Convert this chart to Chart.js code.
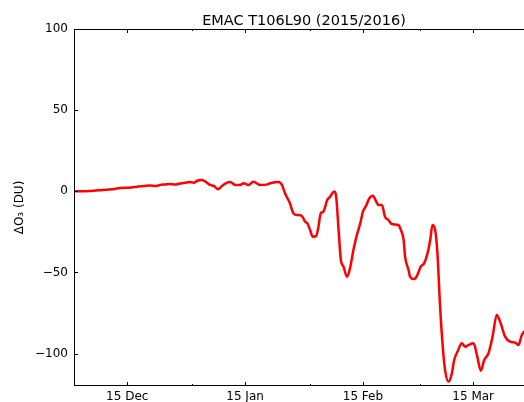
<!DOCTYPE html>
<html>
<head>
<meta charset="utf-8">
<script src="https://cdn.jsdelivr.net/npm/chart.js@4"></script>
<style>
html, body { margin: 0; padding: 0; overflow: hidden; background: #fff; }
#wrap { width: 524px; height: 402px; overflow: hidden; }
</style>
</head>
<body>
<div id="wrap"><canvas id="chart" width="560" height="402"></canvas></div>
<script>
// dias desde el 1 de diciembre de 2015
const dias = [
  0, 4.2, 7.6, 10, 12.1, 14.5, 16.6, 18.5, 20, 21.5, 22.6, 24, 25.3, 26.5, 27.9, 29.2, 30.5, 31.5,
  32.4, 33.7, 34.7, 35.8, 36.8, 37.9,
  38.9, 40.3, 41.1, 42.4, 43.7, 44.6, 45.9, 47.2, 48.9, 50.7, 51.6, 53.8, 54.7, 55.5, 56.8,
  57.7, 58.6, 59.9, 60.8, 61.4, 62.1, 62.8, 63.7, 64.3, 64.9, 65.6, 66.6, 67.4, 68.4, 68.9,
  69.6, 70.2, 70.9, 71.8, 72.6, 73.5, 74.4, 75.3, 76, 76.8, 77.7, 78.6, 79.5, 80.1, 81,
  81.8, 82.7, 83.6, 85.3, 86, 86.7, 87.1, 88, 88.4, 89.5, 90.3, 91.2, 92.1, 93, 93.7,
  94.3, 95, 95.6, 96.3, 97, 97.6, 98.5, 99.4, 100, 100.9, 102, 102.9, 103.8, 105.1, 106,
  107, 107.9, 109, 110.1, 111.2, 112.1, 113.4, 114.7, 116.1, 116.9, 117.8, 118.4, 119.5, 121
];
// anomalia de ozono total (DU)
const valores = [
  0, 0.2, 0.8, 1.2, 2, 2.2, 2.8, 3.3, 3.6, 3.2, 3.9, 4.2, 4.5, 4.1, 4.8, 5.3, 5.7, 5.2,
  6.5, 7, 5.7, 3.9, 3.3, 1.2,
  3.3, 5.3, 5.7, 3.9, 3.9, 4.9, 3.9, 5.9, 3.9, 4.1, 4.9, 5.7, 3.9, -1.2, -7.4,
  -13.6, -14.6, -15.1, -18.8, -19.8, -23.9, -28, -27.6, -21.8, -13.6, -12.6, -5.4, -3.3, -0.2, -2.3,
  -23.9, -42.4, -46.5, -52.7, -47.5, -36.2, -27, -19.8, -12.6, -9.1, -4.3, -2.7, -6.4, -8.5, -8.5,
  -15.7, -17.7, -20.2, -20.8, -23.9, -30, -40.4, -48.5, -52.7, -54.1, -51.7, -46.5, -44.4, -38.2, -30,
  -20.8, -23.9, -38.2, -71.1, -95.8, -110.1, -117.3, -112.2, -104, -98.8, -93.7, -95.8, -94.7, -93.7, -100.9,
  -110.6, -104, -100, -89.6, -76.2, -80.4, -89.6, -92.7, -93.3, -94.7, -88.6, -86.5, -85.5, -85
];
const ticksMayores = [14, 45, 76, 105];
const etiquetasMayores = ["15 Dec", "15 Jan", "15 Feb", "15 Mar"];
const ticksMenores = [31, 62, 91];
const ticksY = [-100, -50, 0, 50, 100];

Chart.defaults.font.family = "'DejaVu Sans', sans-serif";
Chart.defaults.color = "#000";

const marcoPlugin = {
  id: "marco",
  afterDraw(chart) {
    const { ctx, chartArea: a, scales } = chart;
    const x = scales.x, y = scales.y;
    ctx.save();
    ctx.strokeStyle = "#000";
    ctx.lineWidth = 1;
    ctx.strokeRect(a.left + 0.5, a.top + 0.5, a.right - a.left - 1, a.bottom - a.top - 1);

    function linea(x1, y1, x2, y2) {
      ctx.beginPath();
      ctx.moveTo(x1, y1);
      ctx.lineTo(x2, y2);
      ctx.stroke();
    }
    ticksMayores.forEach(v => {
      const px = Math.round(x.getPixelForValue(v)) + 0.5;
      linea(px, a.bottom, px, a.bottom - 4);
      linea(px, a.top, px, a.top + 4);
    });
    ticksMenores.forEach(v => {
      const px = Math.round(x.getPixelForValue(v)) + 0.5;
      linea(px, a.bottom, px, a.bottom - 2);
      linea(px, a.top, px, a.top + 2);
    });
    ticksY.forEach(v => {
      const py = Math.round(y.getPixelForValue(v)) + 0.5;
      linea(a.left, py, a.left + 4, py);
      linea(a.right, py, a.right - 4, py);
    });

    // titulo
    ctx.fillStyle = "#000";
    ctx.font = "14.5px 'DejaVu Sans'";
    ctx.textAlign = "center";
    ctx.textBaseline = "alphabetic";
    ctx.fillText("EMAC T106L90 (2015/2016)", (a.left + a.right) / 2, 25);
    ctx.restore();
  }
};

new Chart(document.getElementById("chart"), {
  type: "line",
  data: {
    labels: dias,
    datasets: [{
      label: "ΔO3",
      data: dias.map((d, i) => ({ x: d, y: valores[i] })),
      borderColor: "#ff0000",
      borderWidth: 2.5,
      pointRadius: 0,
      fill: false,
      cubicInterpolationMode: "monotone"
    }]
  },
  options: {
    responsive: false,
    animation: false,
    layout: { padding: { top: 29, right: 26, left: 0, bottom: 0 } },
    plugins: {
      legend: { display: false },
      tooltip: { enabled: false }
    },
    scales: {
      x: {
        type: "linear",
        min: 0,
        max: 121,
        grid: { display: false, drawTicks: false },
        border: { display: false },
        afterBuildTicks: scale => {
          scale.ticks = ticksMayores.map(v => ({ value: v }));
        },
        afterFit: scale => { scale.height = 16; },
        ticks: {
          padding: 4,
          maxRotation: 0,
          autoSkip: false,
          font: { size: 12 },
          callback: (v, i) => etiquetasMayores[i]
        }
      },
      y: {
        min: -120,
        max: 100,
        grid: { display: false, drawTicks: false },
        border: { display: false },
        afterBuildTicks: scale => {
          scale.ticks = ticksY.map(v => ({ value: v }));
        },
        afterFit: scale => { scale.width = 74; },
        title: {
          display: true,
          text: "ΔO₃ (DU)",
          font: { size: 12 },
          padding: { top: 13, bottom: 0 }
        },
        ticks: {
          padding: 6,
          font: { size: 12 },
          callback: v => (v < 0 ? "\u2212" + Math.abs(v) : String(v))
        }
      }
    }
  },
  plugins: [marcoPlugin]
});
</script>
</body>
</html>
